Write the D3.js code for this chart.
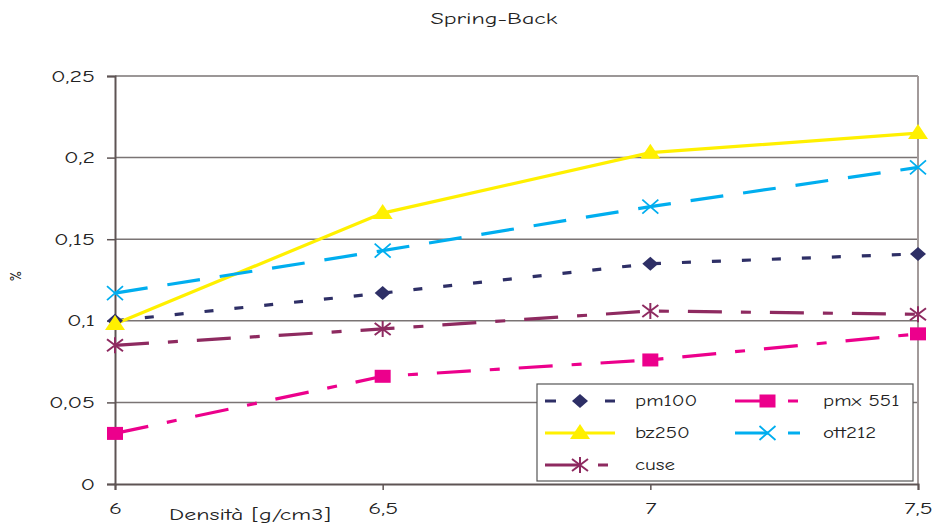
<!DOCTYPE html>
<html>
<head>
<meta charset="utf-8">
<script src="https://cdn.jsdelivr.net/npm/d3@7"></script>
<style>
  html, body { margin: 0; padding: 0; background: #fff; }
  svg { display: block; font-family: "Comic Sans MS", "Comic Neue", "DejaVu Sans", sans-serif; }
</style>
</head>
<body>
<svg id="chart" width="937" height="523"></svg>
<script>
// Spring-back (%) against density for five powder grades
const densities = [6, 6.5, 7, 7.5];
const xTickLabels = ["6", "6,5", "7", "7,5"];
const yTicks = [0, 0.05, 0.1, 0.15, 0.2, 0.25];
const yTickLabels = ["0", "0,05", "0,1", "0,15", "0,2", "0,25"];

const pm100  = [0.100, 0.117, 0.135, 0.141];
const pmx551 = [0.031, 0.066, 0.076, 0.092];
const bz250  = [0.098, 0.166, 0.203, 0.215];
const ott212 = [0.117, 0.143, 0.170, 0.194];
const cuse   = [0.085, 0.095, 0.106, 0.104];

const series = [
  { name: "pm100",   values: pm100,  color: "#2e2f66", dash: "9,21",        marker: "diamond" },
  { name: "pmx 551", values: pmx551, color: "#ec008c", dash: "34,19,10,19", marker: "square" },
  { name: "bz250",   values: bz250,  color: "#fff000", dash: null,          marker: "triangle" },
  { name: "ott212",  values: ott212, color: "#00aeef", dash: "33,20",       marker: "cross" },
  { name: "cuse",    values: cuse,   color: "#8e2a60", dash: "34,19,10,19", marker: "asterisk" }
];

const svg = d3.select("#chart");
const plotLeft = 115, plotRight = 918, plotTop = 76, plotBottom = 484;

const x = d3.scaleLinear().domain([6, 7.5]).range([plotLeft, plotRight]);
const y = d3.scaleLinear().domain([0, 0.25]).range([plotBottom, plotTop]);

const axisColor = "#5e5454";
const gridColor = "#7a7474";
const textColor = "#222";
const fontStack = "\"Comic Sans MS\", \"Comic Neue\", \"DejaVu Sans\", sans-serif";

// widen lettering horizontally: scale the glyphs, keep the anchor point in place
function stretch(sel, sx) {
  sel.each(function () {
    const t = d3.select(this);
    const ax = +(t.attr("x") || 0);
    t.attr("x", ax / sx).attr("transform", `scale(${sx},1)`);
  });
}

// horizontal gridlines
svg.append("g").selectAll("line").data(yTicks.slice(1)).join("line")
  .attr("x1", plotLeft).attr("x2", plotRight)
  .attr("y1", d => y(d)).attr("y2", d => y(d))
  .attr("stroke", gridColor).attr("stroke-width", 1.5);

// right border of plot area
svg.append("line")
  .attr("x1", plotRight).attr("x2", plotRight).attr("y1", plotTop).attr("y2", plotBottom)
  .attr("stroke", "#a29a9a").attr("stroke-width", 2);

// y axis
const yAxis = d3.axisLeft(y).tickValues(yTicks)
  .tickFormat((d, i) => yTickLabels[i]).tickSize(8).tickPadding(12);
const gy = svg.append("g").attr("transform", `translate(${plotLeft},0)`).call(yAxis);
gy.select(".domain").attr("stroke", axisColor).attr("stroke-width", 2);
gy.selectAll(".tick line").attr("stroke", axisColor).attr("stroke-width", 1.5);
gy.selectAll(".tick text").attr("fill", textColor).attr("font-size", 16).attr("font-family", fontStack)
  .call(stretch, 1.5);

// x axis
const xAxis = d3.axisBottom(x).tickValues(densities)
  .tickFormat((d, i) => xTickLabels[i]).tickSize(6).tickPadding(13);
const gx = svg.append("g").attr("transform", `translate(0,${plotBottom})`).call(xAxis);
gx.select(".domain").attr("stroke", axisColor).attr("stroke-width", 2);
gx.selectAll(".tick line").attr("stroke", axisColor).attr("stroke-width", 1.5);
gx.selectAll(".tick text").attr("fill", textColor).attr("font-size", 16).attr("font-family", fontStack)
  .call(stretch, 1.5);

// title and axis titles
svg.append("text").attr("x", 494).attr("y", 24).attr("text-anchor", "middle")
  .attr("font-size", 15).attr("fill", textColor).text("Spring-Back").call(stretch, 1.6);
svg.append("text").attr("x", 250).attr("y", 520).attr("text-anchor", "middle")
  .attr("font-size", 16).attr("fill", textColor).text("Densità [g/cm3]").call(stretch, 1.5);
svg.append("text").attr("transform", "translate(21,276) rotate(-90)")
  .attr("text-anchor", "middle").attr("font-size", 15).attr("fill", textColor).text("%");

// marker drawing
function drawMarker(g, type, color, cx, cy) {
  if (type === "diamond") {
    g.append("path").attr("d", `M${cx},${cy - 7}L${cx + 8},${cy}L${cx},${cy + 7}L${cx - 8},${cy}Z`)
      .attr("fill", color);
  } else if (type === "square") {
    g.append("rect").attr("x", cx - 8).attr("y", cy - 6.5).attr("width", 16).attr("height", 13)
      .attr("fill", color);
  } else if (type === "triangle") {
    g.append("path").attr("d", `M${cx},${cy - 9}L${cx + 10},${cy + 6}L${cx - 10},${cy + 6}Z`)
      .attr("fill", color);
  } else if (type === "cross") {
    g.append("path").attr("d", `M${cx - 8},${cy - 7}L${cx + 8},${cy + 7}M${cx - 8},${cy + 7}L${cx + 8},${cy - 7}`)
      .attr("stroke", color).attr("stroke-width", 1.8).attr("fill", "none");
  } else if (type === "asterisk") {
    g.append("path").attr("d",
      `M${cx - 8},${cy - 6}L${cx + 8},${cy + 6}M${cx - 8},${cy + 6}L${cx + 8},${cy - 6}M${cx},${cy - 8}L${cx},${cy + 8}`)
      .attr("stroke", color).attr("stroke-width", 2).attr("fill", "none");
  }
}

// series lines and markers
const line = d3.line().x((d, i) => x(densities[i])).y(d => y(d));
const plot = svg.append("g");
series.forEach(s => {
  plot.append("path").datum(s.values)
    .attr("d", line)
    .attr("fill", "none")
    .attr("stroke", s.color)
    .attr("stroke-width", 3.2)
    .attr("stroke-dasharray", s.dash);
});
series.forEach(s => {
  const g = plot.append("g");
  s.values.forEach((v, i) => drawMarker(g, s.marker, s.color, x(densities[i]), y(v)));
});

// legend
const legend = svg.append("g");
legend.append("rect").attr("x", 537).attr("y", 384).attr("width", 376).attr("height", 97)
  .attr("fill", "#fff").attr("stroke", "#555").attr("stroke-width", 1.2);
const cols = [{ lx: 545, lx2: 630, tx: 635 }, { lx: 735, lx2: 815, tx: 823 }];
const rowsY = [401, 433, 465];
series.forEach((s, i) => {
  const c = cols[i % 2], ry = rowsY[Math.floor(i / 2)];
  const g = legend.append("g");
  g.append("line").attr("x1", c.lx).attr("x2", c.lx2 - 15).attr("y1", ry).attr("y2", ry)
    .attr("stroke", s.color).attr("stroke-width", 3.2)
    .attr("stroke-dasharray", s.dash ? (s.marker === "diamond" ? "11,19" : s.dash) : null);
  drawMarker(g, s.marker, s.color, (c.lx + c.lx2 - 15) / 2, ry);
  g.append("text").attr("x", c.tx).attr("y", ry + 5).attr("font-size", 15).attr("fill", textColor)
    .text(s.name).call(stretch, 1.4);
});
</script>
</body>
</html>
